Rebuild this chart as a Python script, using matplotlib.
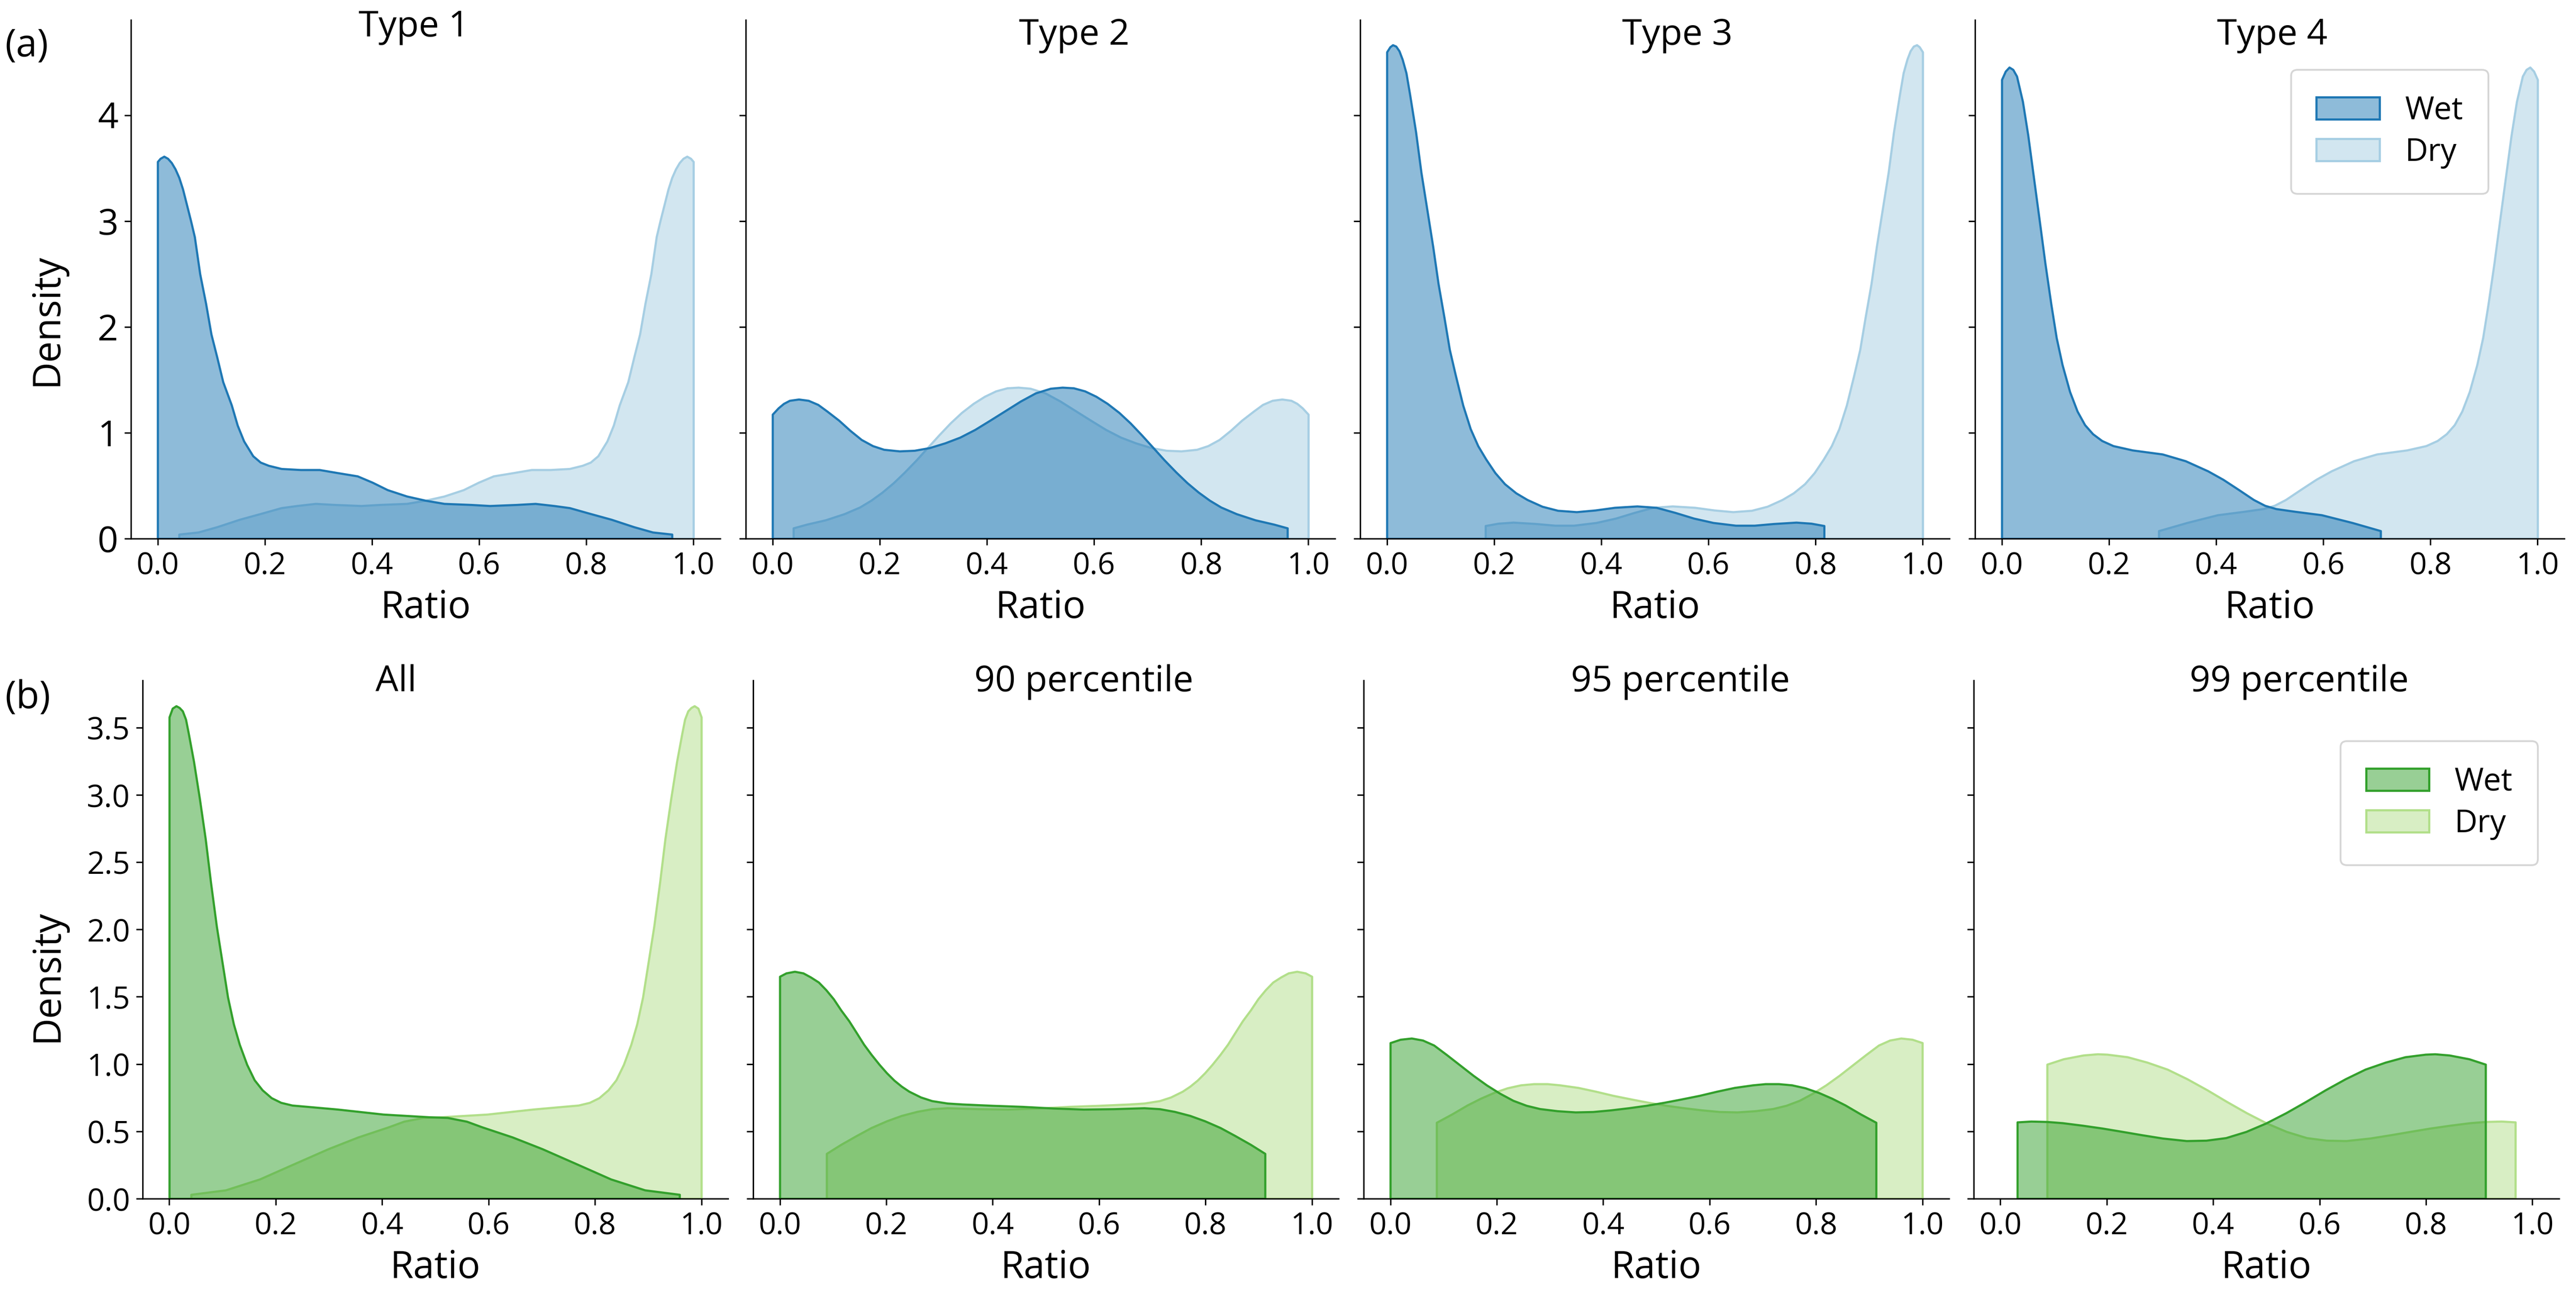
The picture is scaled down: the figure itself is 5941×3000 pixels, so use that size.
import matplotlib.pyplot as plt
from matplotlib.colors import to_rgba
from matplotlib.patches import Patch

plt.rcParams['font.family'] = ['Open Sans', 'DejaVu Sans']

# Titres des panneaux
type_titles = ["Type 1", "Type 2", "Type 3", "Type 4"]
pct_titles = ["All", "90 percentile", "95 percentile", "99 percentile"]
series_names = ["Wet", "Dry"]

# Courbes de densite (x = Ratio, y = Density)
t1_wet_x = [0.0, 0.005, 0.012, 0.019, 0.026, 0.033, 0.040, 0.047, 0.054, 0.062, 0.069, 0.079, 0.090, 0.100,
            0.111, 0.122, 0.138, 0.149, 0.161, 0.178, 0.192, 0.207, 0.231, 0.267, 0.302, 0.337, 0.373, 0.401,
            0.429, 0.465, 0.500, 0.535, 0.585, 0.620, 0.670, 0.705, 0.740, 0.769, 0.804, 0.847, 0.889, 0.924,
            0.960]
t1_wet_y = [3.56, 3.59, 3.61, 3.59, 3.55, 3.49, 3.41, 3.30, 3.16, 3.00, 2.85, 2.50, 2.22, 1.93,
            1.71, 1.48, 1.26, 1.07, 0.92, 0.78, 0.72, 0.69, 0.66, 0.65, 0.65, 0.62, 0.59, 0.53,
            0.46, 0.40, 0.36, 0.33, 0.32, 0.31, 0.32, 0.33, 0.31, 0.29, 0.24, 0.18, 0.11, 0.06,
            0.04]
t1_dry_x = [0.040, 0.076, 0.111, 0.153, 0.196, 0.231, 0.260, 0.295, 0.330, 0.380, 0.415, 0.465, 0.500, 0.535,
            0.571, 0.599, 0.627, 0.663, 0.698, 0.733, 0.769, 0.793, 0.808, 0.822, 0.839, 0.851, 0.862, 0.878,
            0.889, 0.900, 0.910, 0.921, 0.931, 0.938, 0.946, 0.953, 0.960, 0.967, 0.974, 0.981, 0.988, 0.995,
            1.0]
t1_dry_y = [0.04, 0.06, 0.11, 0.18, 0.24, 0.29, 0.31, 0.33, 0.32, 0.31, 0.32, 0.33, 0.36, 0.40,
            0.46, 0.53, 0.59, 0.62, 0.65, 0.65, 0.66, 0.69, 0.72, 0.78, 0.92, 1.07, 1.26, 1.48,
            1.71, 1.93, 2.22, 2.50, 2.85, 3.00, 3.16, 3.30, 3.41, 3.49, 3.55, 3.59, 3.61, 3.59,
            3.56]

t2_wet_x = [0.0, 0.011, 0.021, 0.032, 0.049, 0.067, 0.085, 0.102, 0.124, 0.145, 0.166, 0.187, 0.208, 0.237,
            0.265, 0.293, 0.322, 0.350, 0.378, 0.406, 0.435, 0.463, 0.491, 0.519, 0.541, 0.562, 0.583, 0.604,
            0.625, 0.647, 0.668, 0.689, 0.710, 0.731, 0.753, 0.774, 0.795, 0.816, 0.837, 0.866, 0.901, 0.936,
            0.961]
t2_wet_y = [1.173, 1.233, 1.275, 1.304, 1.316, 1.304, 1.265, 1.202, 1.116, 1.020, 0.934, 0.876, 0.841, 0.826,
            0.832, 0.857, 0.902, 0.956, 1.029, 1.116, 1.208, 1.297, 1.374, 1.418, 1.428, 1.422, 1.393, 1.342,
            1.275, 1.189, 1.090, 0.978, 0.861, 0.743, 0.628, 0.526, 0.437, 0.360, 0.296, 0.233, 0.175, 0.134,
            0.099]
t2_dry_x = [0.039, 0.064, 0.099, 0.134, 0.163, 0.184, 0.205, 0.226, 0.247, 0.269, 0.290, 0.311, 0.332, 0.353,
            0.375, 0.396, 0.417, 0.438, 0.459, 0.481, 0.509, 0.537, 0.565, 0.594, 0.622, 0.650, 0.678, 0.707,
            0.735, 0.763, 0.792, 0.813, 0.834, 0.855, 0.876, 0.898, 0.915, 0.933, 0.951, 0.968, 0.979, 0.989,
            1.0]
t2_dry_y = [0.099, 0.134, 0.175, 0.233, 0.296, 0.360, 0.437, 0.526, 0.628, 0.743, 0.861, 0.978, 1.090, 1.189,
            1.275, 1.342, 1.393, 1.422, 1.428, 1.418, 1.374, 1.297, 1.208, 1.116, 1.029, 0.956, 0.902, 0.857,
            0.832, 0.826, 0.841, 0.876, 0.934, 1.020, 1.116, 1.202, 1.265, 1.304, 1.316, 1.304, 1.275, 1.233,
            1.173]

t3_wet_x = [0.0, 0.006, 0.011, 0.017, 0.023, 0.029, 0.036, 0.043, 0.054, 0.064, 0.075, 0.086, 0.096, 0.107,
            0.117, 0.128, 0.142, 0.156, 0.170, 0.185, 0.202, 0.220, 0.241, 0.262, 0.290, 0.319, 0.354, 0.389,
            0.425, 0.467, 0.503, 0.538, 0.573, 0.609, 0.651, 0.686, 0.722, 0.764, 0.792, 0.816]
t3_wet_y = [4.596, 4.644, 4.663, 4.650, 4.606, 4.526, 4.399, 4.191, 3.841, 3.458, 3.108, 2.757, 2.406, 2.088,
            1.785, 1.546, 1.259, 1.036, 0.876, 0.749, 0.621, 0.516, 0.430, 0.367, 0.303, 0.265, 0.252, 0.268,
            0.293, 0.306, 0.293, 0.245, 0.191, 0.150, 0.124, 0.124, 0.140, 0.153, 0.143, 0.121]
t3_dry_x = [0.184, 0.208, 0.236, 0.278, 0.314, 0.349, 0.391, 0.427, 0.462, 0.497, 0.533, 0.575, 0.611, 0.646,
            0.681, 0.710, 0.738, 0.759, 0.780, 0.798, 0.815, 0.830, 0.844, 0.858, 0.872, 0.883, 0.893, 0.904,
            0.914, 0.925, 0.936, 0.946, 0.957, 0.964, 0.971, 0.977, 0.983, 0.989, 0.994, 1.0]
t3_dry_y = [0.121, 0.143, 0.153, 0.140, 0.124, 0.124, 0.150, 0.191, 0.245, 0.293, 0.306, 0.293, 0.268, 0.252,
            0.265, 0.303, 0.367, 0.430, 0.516, 0.621, 0.749, 0.876, 1.036, 1.259, 1.546, 1.785, 2.088, 2.406,
            2.757, 3.108, 3.458, 3.841, 4.191, 4.399, 4.526, 4.606, 4.650, 4.663, 4.644, 4.596]

t4_wet_x = [0.0, 0.007, 0.014, 0.021, 0.028, 0.039, 0.049, 0.060, 0.071, 0.081, 0.092, 0.102, 0.113, 0.127,
            0.141, 0.155, 0.170, 0.187, 0.208, 0.244, 0.300, 0.343, 0.385, 0.413, 0.442, 0.470, 0.491, 0.512,
            0.548, 0.597, 0.654, 0.707]
t4_wet_y = [4.335, 4.414, 4.452, 4.430, 4.367, 4.128, 3.809, 3.394, 2.980, 2.598, 2.215, 1.897, 1.641, 1.387,
            1.202, 1.074, 0.988, 0.924, 0.876, 0.835, 0.797, 0.733, 0.637, 0.558, 0.462, 0.367, 0.312, 0.281,
            0.255, 0.223, 0.150, 0.073]
t4_dry_x = [0.293, 0.346, 0.403, 0.452, 0.488, 0.509, 0.530, 0.558, 0.587, 0.615, 0.657, 0.700, 0.756, 0.792,
            0.813, 0.830, 0.845, 0.859, 0.873, 0.887, 0.898, 0.908, 0.919, 0.929, 0.940, 0.951, 0.961, 0.972,
            0.979, 0.986, 0.993, 1.0]
t4_dry_y = [0.073, 0.150, 0.223, 0.255, 0.281, 0.312, 0.367, 0.462, 0.558, 0.637, 0.733, 0.797, 0.835, 0.876,
            0.924, 0.988, 1.074, 1.202, 1.387, 1.641, 1.897, 2.215, 2.598, 2.980, 3.394, 3.809, 4.128, 4.367,
            4.430, 4.452, 4.414, 4.335]

all_wet_x = [0.0, 0.006, 0.013, 0.019, 0.025, 0.031, 0.036, 0.046, 0.057, 0.068, 0.078, 0.089, 0.100, 0.110,
             0.121, 0.132, 0.146, 0.160, 0.175, 0.192, 0.210, 0.231, 0.260, 0.317, 0.402, 0.488, 0.523, 0.559,
             0.588, 0.645, 0.701, 0.766, 0.830, 0.894, 0.959]
all_wet_y = [3.577, 3.642, 3.660, 3.647, 3.622, 3.560, 3.460, 3.247, 2.972, 2.672, 2.347, 2.020, 1.745, 1.495,
             1.295, 1.145, 0.995, 0.881, 0.806, 0.748, 0.713, 0.693, 0.683, 0.663, 0.626, 0.606, 0.601, 0.573,
             0.531, 0.456, 0.369, 0.256, 0.144, 0.063, 0.030]
all_dry_x = [0.041, 0.106, 0.170, 0.234, 0.299, 0.355, 0.412, 0.441, 0.477, 0.512, 0.598, 0.683, 0.740, 0.769,
             0.790, 0.808, 0.825, 0.840, 0.854, 0.868, 0.879, 0.890, 0.900, 0.911, 0.922, 0.932, 0.943, 0.954,
             0.964, 0.969, 0.975, 0.981, 0.987, 0.994, 1.0]
all_dry_y = [0.030, 0.063, 0.144, 0.256, 0.369, 0.456, 0.531, 0.573, 0.601, 0.606, 0.626, 0.663, 0.683, 0.693,
             0.713, 0.748, 0.806, 0.881, 0.995, 1.145, 1.295, 1.495, 1.745, 2.020, 2.347, 2.672, 2.972, 3.247,
             3.460, 3.560, 3.622, 3.647, 3.660, 3.642, 3.577]

p90_wet_x = [0.0, 0.012, 0.028, 0.044, 0.058, 0.073, 0.087, 0.101, 0.115, 0.130, 0.144, 0.158, 0.172, 0.187,
             0.201, 0.215, 0.229, 0.243, 0.265, 0.286, 0.315, 0.343, 0.400, 0.457, 0.514, 0.571, 0.628, 0.685,
             0.714, 0.742, 0.771, 0.799, 0.828, 0.856, 0.885, 0.912]
p90_wet_y = [1.650, 1.675, 1.687, 1.675, 1.645, 1.607, 1.550, 1.483, 1.400, 1.320, 1.233, 1.145, 1.070, 0.996,
             0.933, 0.878, 0.833, 0.796, 0.753, 0.726, 0.708, 0.701, 0.691, 0.683, 0.671, 0.663, 0.666, 0.673,
             0.666, 0.646, 0.616, 0.576, 0.526, 0.466, 0.401, 0.334]
p90_dry_x = [0.088, 0.115, 0.144, 0.172, 0.201, 0.229, 0.258, 0.286, 0.315, 0.372, 0.429, 0.486, 0.543, 0.600,
             0.657, 0.685, 0.714, 0.735, 0.757, 0.771, 0.785, 0.799, 0.813, 0.828, 0.842, 0.856, 0.870, 0.885,
             0.899, 0.913, 0.927, 0.942, 0.956, 0.972, 0.988, 1.0]
p90_dry_y = [0.334, 0.401, 0.466, 0.526, 0.576, 0.616, 0.646, 0.666, 0.673, 0.666, 0.663, 0.671, 0.683, 0.691,
             0.701, 0.708, 0.726, 0.753, 0.796, 0.833, 0.878, 0.933, 0.996, 1.070, 1.145, 1.233, 1.320, 1.400,
             1.483, 1.550, 1.607, 1.645, 1.675, 1.687, 1.675, 1.650]

p95_wet_x = [0.0, 0.019, 0.040, 0.061, 0.082, 0.106, 0.131, 0.156, 0.181, 0.206, 0.231, 0.256, 0.281, 0.314,
             0.348, 0.381, 0.414, 0.448, 0.481, 0.514, 0.547, 0.581, 0.614, 0.647, 0.681, 0.705, 0.730, 0.755,
             0.780, 0.805, 0.830, 0.855, 0.884, 0.913]
p95_wet_y = [1.157, 1.182, 1.191, 1.176, 1.139, 1.068, 0.991, 0.914, 0.843, 0.781, 0.728, 0.691, 0.667, 0.651,
             0.642, 0.645, 0.657, 0.673, 0.691, 0.713, 0.738, 0.765, 0.796, 0.824, 0.843, 0.852, 0.852, 0.843,
             0.821, 0.787, 0.744, 0.694, 0.627, 0.565]
p95_dry_x = [0.087, 0.116, 0.145, 0.170, 0.195, 0.220, 0.245, 0.270, 0.295, 0.319, 0.353, 0.386, 0.419, 0.453,
             0.486, 0.519, 0.552, 0.586, 0.619, 0.652, 0.686, 0.719, 0.744, 0.769, 0.794, 0.819, 0.844, 0.869,
             0.894, 0.918, 0.939, 0.960, 0.981, 1.0]
p95_dry_y = [0.565, 0.627, 0.694, 0.744, 0.787, 0.821, 0.843, 0.852, 0.852, 0.843, 0.824, 0.796, 0.765, 0.738,
             0.713, 0.691, 0.673, 0.657, 0.645, 0.642, 0.651, 0.667, 0.691, 0.728, 0.781, 0.843, 0.914, 0.991,
             1.068, 1.139, 1.176, 1.191, 1.182, 1.157]

p99_wet_x = [0.032, 0.058, 0.088, 0.117, 0.155, 0.192, 0.230, 0.267, 0.305, 0.350, 0.387, 0.424, 0.462,
             0.499, 0.537, 0.574, 0.611, 0.649, 0.686, 0.724, 0.761, 0.799, 0.817, 0.844, 0.881, 0.912]
p99_wet_y = [0.568, 0.574, 0.571, 0.562, 0.543, 0.522, 0.497, 0.472, 0.448, 0.429, 0.432, 0.451, 0.497,
             0.559, 0.636, 0.719, 0.806, 0.889, 0.960, 1.012, 1.052, 1.071, 1.074, 1.065, 1.037, 0.997]
p99_dry_x = [0.088, 0.119, 0.156, 0.183, 0.201, 0.239, 0.276, 0.314, 0.351, 0.389, 0.426, 0.463, 0.501,
             0.538, 0.576, 0.613, 0.650, 0.695, 0.733, 0.770, 0.808, 0.845, 0.883, 0.912, 0.942, 0.968]
p99_dry_y = [0.997, 1.037, 1.065, 1.074, 1.071, 1.052, 1.012, 0.960, 0.889, 0.806, 0.719, 0.636, 0.559,
             0.497, 0.451, 0.432, 0.429, 0.448, 0.472, 0.497, 0.522, 0.543, 0.562, 0.571, 0.574, 0.568]

row_a = [(t1_wet_x, t1_wet_y, t1_dry_x, t1_dry_y),
         (t2_wet_x, t2_wet_y, t2_dry_x, t2_dry_y),
         (t3_wet_x, t3_wet_y, t3_dry_x, t3_dry_y),
         (t4_wet_x, t4_wet_y, t4_dry_x, t4_dry_y)]
row_b = [(all_wet_x, all_wet_y, all_dry_x, all_dry_y),
         (p90_wet_x, p90_wet_y, p90_dry_x, p90_dry_y),
         (p95_wet_x, p95_wet_y, p95_dry_x, p95_dry_y),
         (p99_wet_x, p99_wet_y, p99_dry_x, p99_dry_y)]

# Colori (palette Paired)
blue_dark, blue_light = "#1f78b4", "#a6cee3"
green_dark, green_light = "#33a02c", "#b2df8a"

# Impaginazione (frazioni della figura)
left_a = [0.0508, 0.2895, 0.5280, 0.7667]
left_b = [0.0554, 0.2924, 0.5294, 0.7662]
title_x_a = [0.48, 0.557, 0.538, 0.504]
title_y_a = [0.968, 0.952, 0.952, 0.952]
title_x_b = [0.433, 0.565, 0.541, 0.556]

fig = plt.figure(figsize=(5941 / 300, 10), dpi=300)


def draw_row(curves, lefts, bottom, width, height, titles, tx, ty, c_wet, c_dry, ymax, ysize):
    axes = []
    for i, (wx, wy, dx, dy) in enumerate(curves):
        ax = fig.add_axes([lefts[i], bottom, width, height])
        # prima il secco, poi il bagnato sopra
        ax.fill_between(dx, dy, facecolor=to_rgba(c_dry, 0.5), edgecolor=c_dry, linewidth=1.2)
        ax.fill_between(wx, wy, facecolor=to_rgba(c_wet, 0.5), edgecolor=c_wet, linewidth=1.2)
        ax.set_xlim(-0.05, 1.05)
        ax.set_ylim(0, ymax)
        ax.set_xticks([0.0, 0.2, 0.4, 0.6, 0.8, 1.0])
        ax.spines["top"].set_visible(False)
        ax.spines["right"].set_visible(False)
        ax.tick_params(axis="x", labelsize=16.8)
        ax.tick_params(axis="y", labelsize=ysize)
        ax.set_xlabel("Ratio", fontsize=21)
        ax.set_title(titles[i], fontsize=20, x=tx[i], y=ty[i], pad=0)
        if i > 0:
            ax.tick_params(labelleft=False)
        axes.append(ax)
    return axes


axes_a = draw_row(row_a, left_a, 0.586, 0.2288, 0.3987, type_titles, title_x_a, title_y_a,
                  blue_dark, blue_light, 4.90, 20)
axes_b = draw_row(row_b, left_b, 0.0787, 0.2272, 0.3983, pct_titles, title_x_b, [0.979] * 4,
                  green_dark, green_light, 3.85, 17)

axes_a[0].set_ylabel("Density", fontsize=21)
axes_a[0].yaxis.set_label_coords(-0.11, 0.422)
axes_b[0].set_ylabel("Density", fontsize=21)
axes_b[0].yaxis.set_label_coords(-0.13, 0.43)

# Legende
for ax, cw, cd, anchor in [(axes_a[3], blue_dark, blue_light, (0.871, 0.904)),
                           (axes_b[3], green_dark, green_light, (0.964, 0.883))]:
    handles = [Patch(facecolor=to_rgba(cw, 0.5), edgecolor=cw, linewidth=1.2),
               Patch(facecolor=to_rgba(cd, 0.5), edgecolor=cd, linewidth=1.2)]
    ax.legend(handles, series_names, loc="upper right", bbox_to_anchor=anchor, fontsize=17.5,
              borderaxespad=0, borderpad=0.8, labelspacing=0.3, handlelength=2.0, handletextpad=0.8)

fig.text(0.002, 0.979, "(a)", fontsize=21, ha="left", va="top")
fig.text(0.002, 0.478, "(b)", fontsize=21, ha="left", va="top")

fig.savefig("out.png", dpi=300)
